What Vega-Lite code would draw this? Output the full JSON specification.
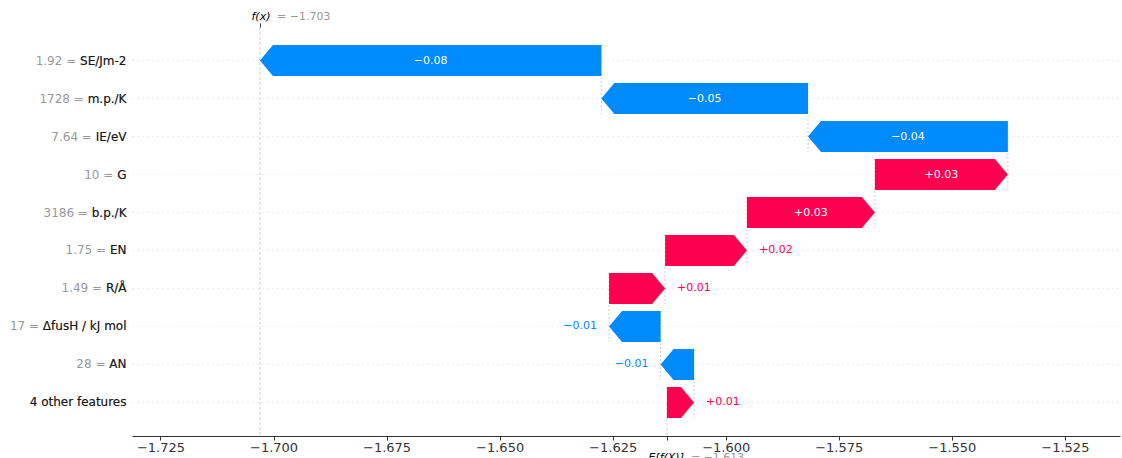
{
  "$schema": "https://vega.github.io/schema/vega-lite/v6.json",
  "width": 988,
  "height": 409,
  "autosize": "none",
  "padding": {"left": 132, "top": 27, "right": 2, "bottom": 22},
  "background": "white",
  "config": {
    "view": {"stroke": null},
    "font": "DejaVu Sans",
    "axis": {"grid": false, "title": null, "labelFont": "DejaVu Sans", "labelOverlap": false, "labelFlush": false}
  },
  "datasets": {
    "shap": [
      {"row": "1.92 = SE/Jm-2", "start": -1.6275, "end": -1.703, "text": "−0.08", "below": "1728 = m.p./K"},
      {"row": "1728 = m.p./K", "start": -1.5818, "end": -1.6275, "text": "−0.05", "below": "7.64 = IE/eV"},
      {"row": "7.64 = IE/eV", "start": -1.5376, "end": -1.5818, "text": "−0.04", "below": "10 = G"},
      {"row": "10 = G", "start": -1.567, "end": -1.5376, "text": "+0.03", "below": "3186 = b.p./K"},
      {"row": "3186 = b.p./K", "start": -1.5953, "end": -1.567, "text": "+0.03", "below": "1.75 = EN"},
      {"row": "1.75 = EN", "start": -1.6134, "end": -1.5953, "text": "+0.02", "below": "1.49 = R/Å"},
      {"row": "1.49 = R/Å", "start": -1.6258, "end": -1.6134, "text": "+0.01", "below": "17 = ΔfusH / kJ mol"},
      {"row": "17 = ΔfusH / kJ mol", "start": -1.6144, "end": -1.6258, "text": "−0.01", "below": "28 = AN"},
      {"row": "28 = AN", "start": -1.607, "end": -1.6144, "text": "−0.01", "below": "4 other features"},
      {"row": "4 other features", "start": -1.613, "end": -1.607, "text": "+0.01", "below": null}
    ],
    "refs": [
      {"name": "fx", "value": -1.703},
      {"name": "base", "value": -1.613}
    ]
  },
  "resolve": {"axis": {"x": "independent", "y": "independent"}},
  "layer": [
    {
      "data": {"name": "shap"},
      "transform": [{"filter": "datum.below != null"}],
      "mark": {"type": "rule", "color": "#bbbbbb", "strokeWidth": 0.7, "strokeDash": [2, 2], "yOffset": -15.5, "y2Offset": 15.5},
      "encoding": {
        "x": {"field": "start", "type": "quantitative", "scale": {"domain": [-1.7313, -1.5128], "nice": false, "zero": false},
          "axis": {"orient": "bottom", "values": [-1.725, -1.7, -1.675, -1.65, -1.625, -1.6, -1.575, -1.55, -1.525], "format": ".3f", "labelFontSize": 13, "labelColor": "#333333", "tickSize": 4, "tickColor": "#333333", "domainColor": "#333333", "labelPadding": 1}},
        "y": {"field": "row", "type": "nominal", "sort": null,
          "scale": {"domain": ["1.92 = SE/Jm-2", "1728 = m.p./K", "7.64 = IE/eV", "10 = G", "3186 = b.p./K", "1.75 = EN", "1.49 = R/Å", "17 = ΔfusH / kJ mol", "28 = AN", "4 other features"], "paddingInner": 0, "paddingOuter": 0.3816},
          "axis": {"orient": "left", "bandPosition": 0.5, "grid": true, "gridColor": "#cccccc", "gridWidth": 0.7, "gridDash": [1, 4], "ticks": false, "domain": false, "labelColor": "#999999", "labelFontSize": 12, "labelPadding": 6, "zindex": 0}},
        "y2": {"field": "below"}
      }
    },
    {
      "data": {"name": "refs"},
      "transform": [{"filter": "datum.name == 'fx'"}],
      "mark": {"type": "rule", "color": "#bbbbbb", "strokeWidth": 0.7, "strokeDash": [3, 2]},
      "encoding": {
        "x": {"field": "value", "type": "quantitative", "scale": {"domain": [-1.7313, -1.5128], "nice": false, "zero": false},
          "axis": {"orient": "top", "values": [-1.703], "labelExpr": "'f(x)'", "labelAlign": "left", "labelOffset": -9, "labelFontStyle": "italic", "labelFontSize": 11, "labelColor": "#000000", "tickSize": 4, "tickColor": "#333333", "domain": false, "labelPadding": 2}}
      }
    },
    {
      "data": {"name": "refs"},
      "transform": [{"filter": "datum.name == 'base'"}],
      "mark": {"type": "rule", "color": "#bbbbbb", "strokeWidth": 0.7, "strokeDash": [3, 2], "y2Offset": 36},
      "encoding": {
        "x": {"field": "value", "type": "quantitative", "scale": {"domain": [-1.7313, -1.5128], "nice": false, "zero": false},
          "axis": {"orient": "bottom", "values": [-1.613], "labelExpr": "'E[f(X)]'", "labelAlign": "left", "labelOffset": -19, "labelFontStyle": "italic", "labelFontSize": 11, "labelColor": "#000000", "tickSize": 4, "tickColor": "#333333", "domain": false, "labelPadding": 11}},
        "y": {"datum": "4 other features", "type": "nominal", "axis": null},
        "y2": {"datum": "4 other features"}
      }
    },
    {
      "data": {"name": "shap"},
      "transform": [{"filter": "datum.end > datum.start"}],
      "mark": {"type": "bar", "color": "#ff0051", "height": 31, "x2Offset": -13},
      "encoding": {
        "x": {"field": "start", "type": "quantitative", "scale": {"domain": [-1.7313, -1.5128], "nice": false, "zero": false},
          "axis": {"orient": "top", "values": [-1.703], "labelExpr": "'= −1.703'", "labelAlign": "left", "labelOffset": 16.5, "labelFontSize": 11, "labelColor": "#999999", "tickSize": 4, "tickOpacity": 0, "domain": false, "labelPadding": 2}},
        "x2": {"field": "end"},
        "y": {"field": "row", "type": "nominal", "sort": null,
          "axis": {"orient": "left", "bandPosition": 0.5, "labelExpr": "indexof(datum.label, ' = ') >= 0 ? substring(datum.label, indexof(datum.label, ' = ') + 3) : datum.label", "ticks": false, "domain": false, "labelColor": "#1a1a1a", "labelFontSize": 12, "labelPadding": 6, "zindex": 1}}
      }
    },
    {
      "data": {"name": "shap"},
      "transform": [{"filter": "datum.end < datum.start"}],
      "mark": {"type": "bar", "color": "#008bfb", "height": 31, "x2Offset": 13},
      "encoding": {
        "x": {"field": "start", "type": "quantitative", "scale": {"domain": [-1.7313, -1.5128], "nice": false, "zero": false},
          "axis": {"orient": "bottom", "values": [-1.613], "labelExpr": "'= −1.613'", "labelAlign": "left", "labelOffset": 23.5, "labelFontSize": 11, "labelColor": "#999999", "tickSize": 4, "tickOpacity": 0, "domain": false, "labelPadding": 11}},
        "x2": {"field": "end"},
        "y": {"field": "row", "type": "nominal", "sort": null, "axis": null}
      }
    },
    {
      "data": {"name": "shap"},
      "transform": [{"filter": "datum.end > datum.start"}],
      "mark": {"type": "point", "filled": true, "opacity": 1, "color": "#ff0051", "size": 961, "strokeWidth": 0,
        "shape": "M -0.9 -1 L -0.839 -1 L 0 0 L -0.839 1 L -0.9 1 Z"},
      "encoding": {
        "x": {"field": "end", "type": "quantitative", "axis": null},
        "y": {"field": "row", "type": "nominal", "sort": null, "axis": null}
      }
    },
    {
      "data": {"name": "shap"},
      "transform": [{"filter": "datum.end < datum.start"}],
      "mark": {"type": "point", "filled": true, "opacity": 1, "color": "#008bfb", "size": 961, "strokeWidth": 0,
        "shape": "M 0.9 -1 L 0.839 -1 L 0 0 L 0.839 1 L 0.9 1 Z"},
      "encoding": {
        "x": {"field": "end", "type": "quantitative", "axis": null},
        "y": {"field": "row", "type": "nominal", "sort": null, "axis": null}
      }
    },
    {
      "data": {"name": "shap"},
      "transform": [
        {"filter": "abs(datum.end - datum.start) > 0.022"},
        {"fold": ["start", "end"], "as": ["k", "v"]}
      ],
      "mark": {"type": "text", "color": "white", "fontSize": 11, "align": "center", "baseline": "middle"},
      "encoding": {
        "x": {"aggregate": "mean", "field": "v", "type": "quantitative", "axis": null},
        "y": {"field": "row", "type": "nominal", "sort": null, "axis": null},
        "text": {"field": "text", "type": "nominal"}
      }
    },
    {
      "data": {"name": "shap"},
      "transform": [{"filter": "abs(datum.end - datum.start) <= 0.022 && datum.end > datum.start"}],
      "mark": {"type": "text", "color": "#ff0051", "fontSize": 11, "align": "left", "baseline": "middle", "dx": 12},
      "encoding": {
        "x": {"field": "end", "type": "quantitative", "axis": null},
        "y": {"field": "row", "type": "nominal", "sort": null, "axis": null},
        "text": {"field": "text", "type": "nominal"}
      }
    },
    {
      "data": {"name": "shap"},
      "transform": [{"filter": "abs(datum.end - datum.start) <= 0.022 && datum.end < datum.start"}],
      "mark": {"type": "text", "color": "#008bfb", "fontSize": 11, "align": "right", "baseline": "middle", "dx": -12},
      "encoding": {
        "x": {"field": "end", "type": "quantitative", "axis": null},
        "y": {"field": "row", "type": "nominal", "sort": null, "axis": null},
        "text": {"field": "text", "type": "nominal"}
      }
    }
  ]
}
